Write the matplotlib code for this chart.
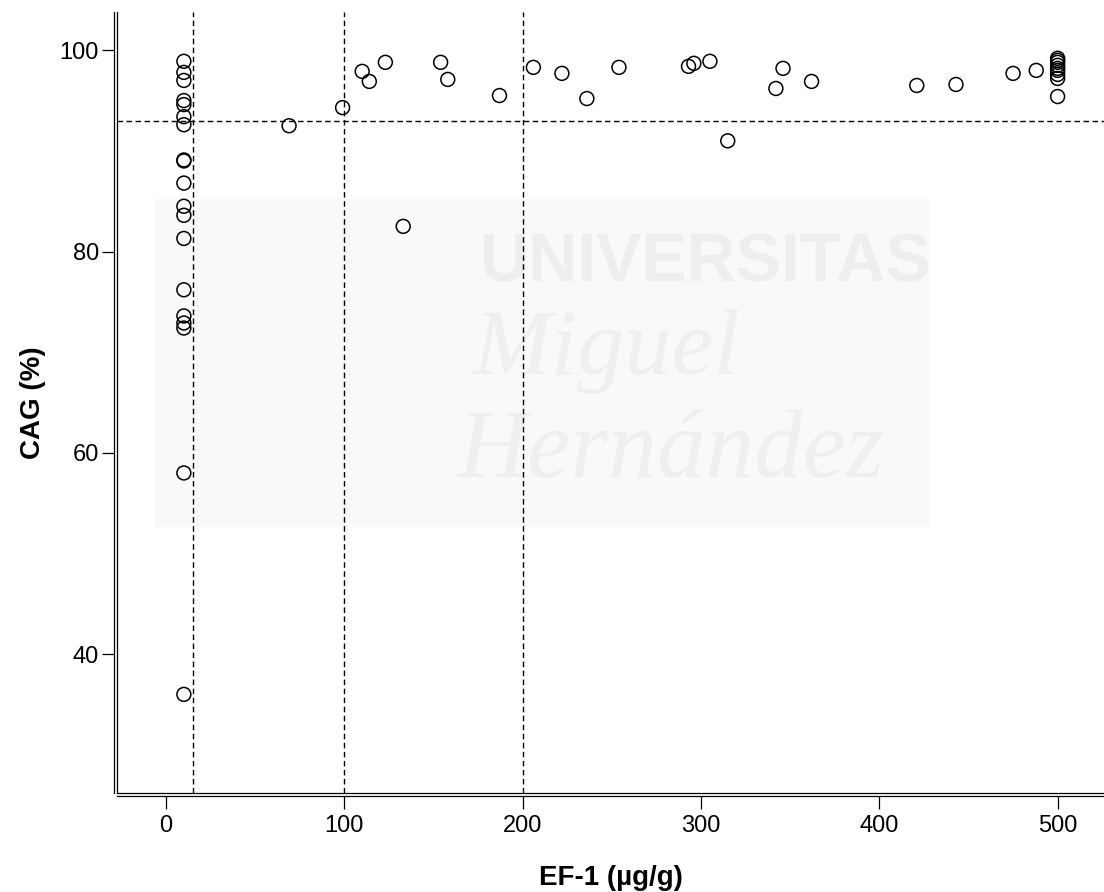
import numpy as np
import matplotlib
matplotlib.use("Agg")
import matplotlib.pyplot as plt
from matplotlib.patches import Rectangle

plt.rcParams['font.family'] = ['Liberation Sans', 'DejaVu Sans']

# EF-1 (ug/g) and CAG (%)
ef1_low = [10] * 19
cag_low = [98.9, 97.8, 97.0, 95.0, 94.6, 93.4, 92.6, 89.1, 89.0, 86.8,
           84.5, 83.6, 81.3, 76.2, 73.6, 72.9, 72.4, 58.0, 36.0]

ef1_mid = [69, 99, 110, 114, 123, 133, 154, 158, 187, 206, 222, 236, 254,
           293, 296, 305, 315, 342, 346, 362, 421, 443, 475, 488]
cag_mid = [92.5, 94.3, 97.9, 96.9, 98.8, 82.5, 98.8, 97.1, 95.5, 98.3, 97.7,
           95.2, 98.3, 98.4, 98.7, 98.9, 91.0, 96.2, 98.2, 96.9, 96.5, 96.6,
           97.7, 98.0]

ef1_top = [500] * 9
cag_top = [99.2, 99.0, 98.8, 98.5, 98.2, 98.0, 97.6, 97.2, 95.4]

cut_x = [15, 100, 200]
cut_y = 93

x_ticks = [0, 100, 200, 300, 400, 500]
y_ticks = [40, 60, 80, 100]

fig = plt.figure(figsize=(11.04, 8.92), dpi=100)
ax = fig.add_axes([117 / 1104, 1 - 793 / 892, 1 - 117 / 1104, (793 - 12) / 892])

# faint watermark in the background
ax.add_patch(Rectangle((0.0385, 0.34), 0.785, 0.42, transform=ax.transAxes,
                       facecolor='#f9f9f9', edgecolor='none', zorder=0))
ax.text(0.368, 0.678, 'UNIVERSITAS', transform=ax.transAxes, fontsize=49,
        fontweight='bold', color='#eeeeee', va='center', ha='left', zorder=0)
ax.text(0.36, 0.565, 'Miguel', transform=ax.transAxes, fontsize=68,
        fontstyle='italic', family='Liberation Serif', color='#efefef',
        va='center', ha='left', zorder=0)
ax.text(0.345, 0.435, 'Hernández', transform=ax.transAxes, fontsize=70,
        fontstyle='italic', family='Liberation Serif', color='#efefef',
        va='center', ha='left', zorder=0)

x = ef1_low + ef1_mid + ef1_top
y = cag_low + cag_mid + cag_top
ax.scatter(x, y, s=100, facecolors='none', edgecolors='black',
           linewidths=1.1, zorder=3)

for cx in cut_x:
    ax.axvline(cx, color='black', lw=1.0, dashes=(4, 2.5), zorder=2)
ax.axhline(cut_y, color='black', lw=1.0, dashes=(4, 2.5), zorder=2)

ax.set_xlim(-27.5, 526)
ax.set_ylim(26.2, 103.8)
ax.set_xticks(x_ticks)
ax.set_yticks(y_ticks)

# inner frame lines, then the axes set slightly outward (double line look)
ax.plot([0, 0], [0, 1], color='black', lw=0.9, transform=ax.transAxes,
        clip_on=False, zorder=4)
ax.plot([0, 1], [0, 0], color='black', lw=0.9, transform=ax.transAxes,
        clip_on=False, zorder=4)
for side in ['top', 'right']:
    ax.spines[side].set_visible(False)
ax.spines['left'].set_position(('outward', 2))
ax.spines['bottom'].set_position(('outward', 2))
ax.spines['left'].set_linewidth(0.9)
ax.spines['bottom'].set_linewidth(0.9)
ax.tick_params(direction='out', length=9, width=0.9, labelsize=17)
ax.tick_params(axis='x', pad=5)
ax.tick_params(axis='y', pad=2)

ax.set_xlabel('EF-1 (µg/g)', fontsize=20, fontweight='bold', labelpad=20)
ax.set_ylabel('CAG (%)', fontsize=20, fontweight='bold', labelpad=10)

fig.savefig('out.png', dpi=100)
